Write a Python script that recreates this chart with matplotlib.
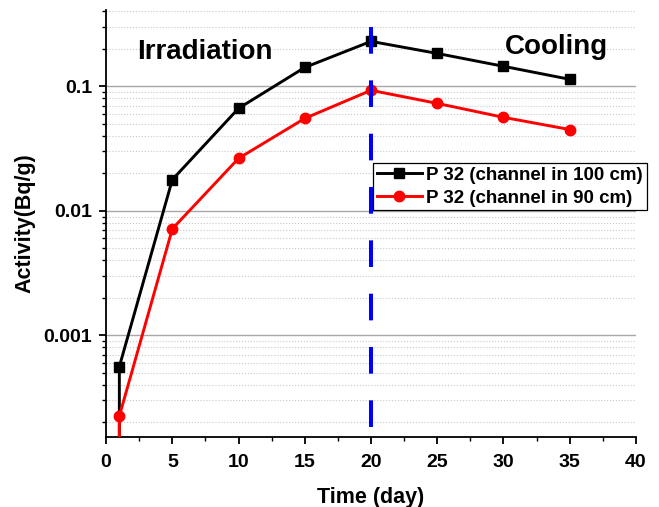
import matplotlib
matplotlib.use("Agg")
import matplotlib.pyplot as plt
from matplotlib.ticker import LogLocator, NullFormatter, FixedLocator, FixedFormatter

plt.rcParams['font.family'] = ['Liberation Sans', 'DejaVu Sans']
plt.rcParams['font.weight'] = 'bold'

days = [1, 1, 5, 10, 15, 20, 25, 30, 35]
act_100cm = [1e-5, 5.6e-4, 0.0178, 0.0666, 0.142, 0.230, 0.184, 0.145, 0.114]
act_90cm = [1e-5, 2.24e-4, 0.00716, 0.0264, 0.0553, 0.093, 0.073, 0.0564, 0.045]
label_100 = "P 32 (channel in 100 cm)"
label_90 = "P 32 (channel in 90 cm)"
boundary_day = 20
y_ticks = [0.001, 0.01, 0.1]
y_ticklabels = ["0.001", "0.01", "0.1"]

fig = plt.figure(figsize=(6.59, 5.07), dpi=100)
ax = fig.add_axes([0.161, 0.138, 0.804, 0.842])
ax.set_yscale('log')
ax.set_xlim(0, 40)
ax.set_ylim(1.52e-4, 0.41)

ax.plot(days, act_100cm, color='black', lw=2.1, marker='s', ms=7,
        markevery=list(range(1, len(days))), label=label_100, zorder=3)
ax.plot(days, act_90cm, color='#ff0000', lw=2.1, marker='o', ms=7.5,
        markevery=list(range(1, len(days))), label=label_90, zorder=3)

ax.axvline(boundary_day, color='#0000ff', lw=2.9,
           linestyle=(10.76, (6.62, 6.62)), zorder=4)

ax.yaxis.set_major_locator(FixedLocator(y_ticks))
ax.yaxis.set_major_formatter(FixedFormatter(y_ticklabels))
ax.yaxis.set_minor_locator(LogLocator(base=10, subs=[2, 3, 4, 5, 6, 7, 8, 9]))
ax.yaxis.set_minor_formatter(NullFormatter())
ax.set_xticks(range(0, 41, 5))
ax.set_xticks([2.5 + 5 * i for i in range(8)], minor=True)

ax.grid(axis='y', which='major', color='#a8a8a8', lw=1.0, ls='-')
ax.grid(axis='y', which='minor', color='#c8c8c8', lw=0.8, ls=':')
ax.set_axisbelow(True)

for s in ['top', 'right']:
    ax.spines[s].set_visible(False)
for s in ['left', 'bottom']:
    ax.spines[s].set_linewidth(1.3)

ax.tick_params(which='major', direction='out', length=5, width=1.3, labelsize=14)
ax.tick_params(axis='x', which='major', pad=7)
ax.tick_params(axis='y', which='major', pad=5)
ax.tick_params(which='minor', direction='out', length=3, width=1.0)
for lab in ax.get_xticklabels() + ax.get_yticklabels():
    lab.set_fontweight('bold')

ax.set_xlabel("Time (day)", fontsize=15.5, fontweight='bold')
ax.set_ylabel("Activity(Bq/g)", fontsize=15.5, fontweight='bold')
ax.xaxis.set_label_coords((370.5 - 106) / 530, (437 - 497) / 427)
ax.yaxis.set_label_coords((25 - 106) / 530, (437 - 223) / 427)
ax.xaxis.label.set_va('center')
ax.yaxis.label.set_va('center')

fig.text(137 / 659, 1 - 52 / 507, "Irradiation", fontsize=20, fontweight='bold',
         va='center', ha='left')
fig.text(505 / 659, 1 - 47 / 507, "Cooling", fontsize=20, fontweight='bold',
         va='center', ha='left')

leg = ax.legend(loc='upper left', bbox_to_anchor=(373 / 659, 1 - 163 / 507),
                bbox_transform=fig.transFigure, fontsize=13.5, frameon=True,
                fancybox=False, edgecolor='black', framealpha=1,
                handlelength=2.4, handletextpad=0.25, borderpad=0.2,
                labelspacing=0.3, borderaxespad=0)
leg.get_frame().set_linewidth(0.9)
for t in leg.get_texts():
    t.set_fontweight('bold')

fig.savefig("out.png", dpi=100)
